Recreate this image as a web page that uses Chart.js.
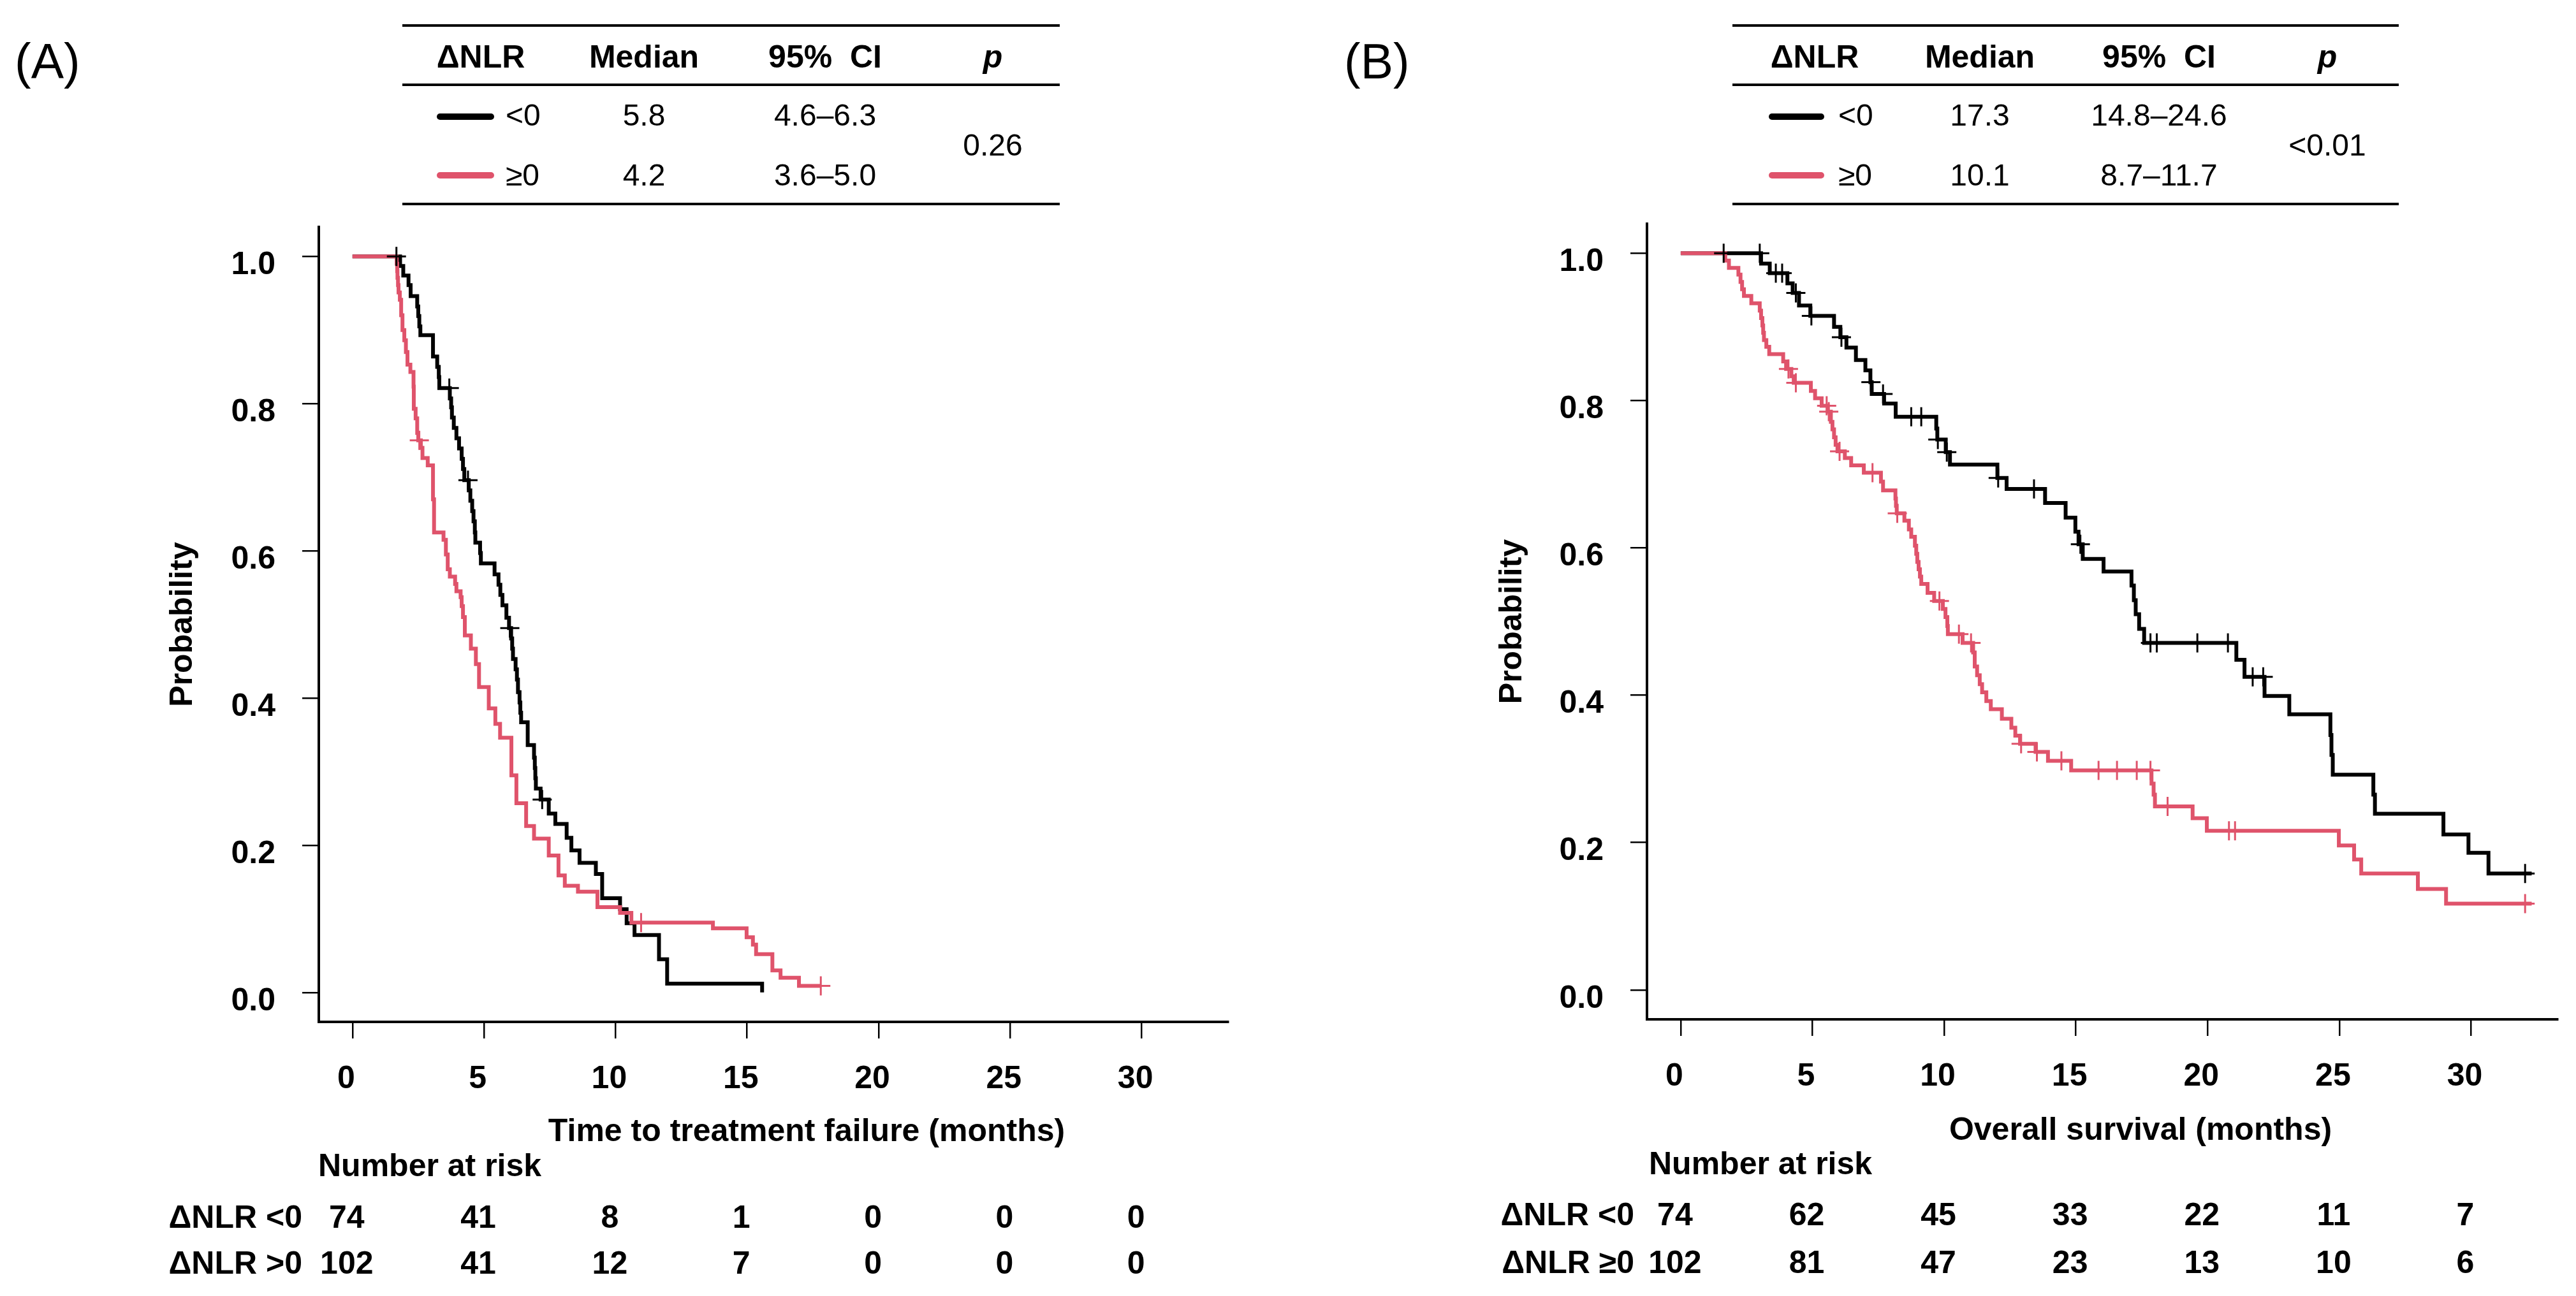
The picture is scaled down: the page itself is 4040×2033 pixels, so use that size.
<!DOCTYPE html>
<html>
<head>
<meta charset="utf-8">
<title>Kaplan-Meier by change in NLR</title>
<script src="https://cdn.jsdelivr.net/npm/chart.js@4.4.1/dist/chart.umd.min.js"></script>
<style>
    html, body { margin: 0; padding: 0; background: #fff; }
    #page { position: relative; width: 4040px; height: 2033px; overflow: hidden; font-family: 'Liberation Sans', Arial, sans-serif; color: #000; }
    canvas { position: absolute; left: 0; top: 0; }
    .t { position: absolute; white-space: nowrap; line-height: 1; }
    .rule { position: absolute; height: 4px; background: #000; }
    .key { position: absolute; height: 10px; border-radius: 5px; }
</style>
</head>
<body>
<div id="page">
    <canvas id="chartA" width="4040" height="2033"></canvas>
    <canvas id="chartB" width="4040" height="2033"></canvas>
</div>
<script>
// Kaplan-Meier curves, ΔNLR <0 vs ≥0
const FONT = "'Liberation Sans', Arial, sans-serif";
const BLACK = '#000000';
const RED = '#DF536B';

const xTicks = [0, 5, 10, 15, 20, 25, 30];
const yTicks = [0, 0.2, 0.4, 0.6, 0.8, 1.0];

// (A) time to treatment failure: [months, probability]
const ttfNeg = [[0,1],[1.81,0.987],[1.93,0.974],[2.13,0.961],[2.21,0.946],[2.46,0.932],[2.50,0.919],[2.54,0.905],[2.58,0.893],[3.06,0.864],[3.22,0.850],[3.28,0.836],[3.30,0.821],[3.70,0.807],[3.75,0.795],[3.78,0.781],[3.85,0.767],[3.95,0.753],[4.05,0.739],[4.15,0.725],[4.20,0.711],[4.25,0.696],[4.42,0.682],[4.48,0.668],[4.55,0.654],[4.60,0.640],[4.65,0.625],[4.67,0.611],[4.85,0.597],[4.88,0.583],[5.40,0.568],[5.55,0.554],[5.62,0.540],[5.70,0.526],[5.85,0.509],[5.95,0.495],[6.03,0.481],[6.07,0.467],[6.10,0.453],[6.20,0.439],[6.25,0.425],[6.29,0.408],[6.35,0.394],[6.38,0.380],[6.41,0.367],[6.66,0.336],[6.90,0.319],[6.93,0.305],[6.95,0.291],[6.97,0.277],[7.15,0.262],[7.46,0.243],[7.71,0.229],[8.14,0.210],[8.32,0.193],[8.63,0.176],[9.25,0.161],[9.49,0.128],[10.17,0.113],[10.42,0.094],[10.72,0.078],[11.65,0.045],[11.96,0.012],[15.57,0]];
const ttfNegCensor = [[1.67,1.0],[3.68,0.821],[4.39,0.696],[5.98,0.495],[7.21,0.262]];
const ttfPos = [[0,1],[1.68,0.990],[1.70,0.980],[1.71,0.971],[1.73,0.961],[1.75,0.951],[1.80,0.941],[1.85,0.920],[1.90,0.900],[1.97,0.886],[2.03,0.870],[2.09,0.853],[2.20,0.843],[2.32,0.823],[2.33,0.793],[2.40,0.780],[2.46,0.760],[2.50,0.750],[2.60,0.740],[2.66,0.726],[2.86,0.716],[3.06,0.670],[3.10,0.625],[3.46,0.615],[3.55,0.595],[3.62,0.575],[3.70,0.565],[3.90,0.555],[3.95,0.545],[4.11,0.537],[4.15,0.525],[4.20,0.510],[4.27,0.485],[4.50,0.467],[4.69,0.446],[4.81,0.415],[5.18,0.386],[5.43,0.365],[5.61,0.346],[6.04,0.295],[6.23,0.257],[6.60,0.226],[6.90,0.209],[7.46,0.186],[7.83,0.159],[8.07,0.145],[8.57,0.137],[9.31,0.116],[10.17,0.108],[10.60,0.095],[13.70,0.087],[14.98,0.075],[15.22,0.065],[15.34,0.052],[15.96,0.030],[16.27,0.020],[16.97,0.009],[17.80,0.009]];
const ttfPosCensor = [[2.54,0.750],[10.97,0.095],[17.80,0.009]];

// (B) overall survival: [months, probability]
const osNeg = [[0,1],[3.05,0.986],[3.38,0.973],[4.05,0.959],[4.25,0.946],[4.49,0.929],[4.92,0.915],[5.82,0.900],[6.06,0.886],[6.29,0.872],[6.65,0.855],[7.01,0.841],[7.20,0.825],[7.25,0.809],[7.72,0.796],[8.16,0.778],[9.70,0.762],[9.74,0.747],[10.06,0.730],[10.22,0.713],[12.02,0.695],[12.37,0.680],[13.83,0.661],[14.61,0.641],[14.98,0.622],[15.10,0.605],[15.26,0.585],[16.05,0.568],[17.11,0.549],[17.20,0.529],[17.27,0.510],[17.40,0.490],[17.59,0.471],[21.09,0.448],[21.40,0.425],[22.16,0.399],[23.10,0.374],[24.66,0.346],[24.70,0.319],[24.75,0.292],[26.29,0.265],[26.35,0.239],[28.95,0.211],[29.90,0.186],[30.66,0.158],[32.30,0.158]];
const osNegCensor = [[1.63,1.0],[3.00,1.0],[3.61,0.973],[3.85,0.973],[4.37,0.946],[4.96,0.915],[6.10,0.886],[7.22,0.825],[7.68,0.809],[8.75,0.778],[9.13,0.778],[9.76,0.747],[10.10,0.730],[12.05,0.695],[13.41,0.680],[15.17,0.605],[17.83,0.471],[18.07,0.471],[19.61,0.471],[20.77,0.471],[21.71,0.425],[22.11,0.425],[32.05,0.158]];
const osPos = [[0,1],[1.69,0.990],[1.83,0.980],[2.19,0.971],[2.27,0.961],[2.33,0.951],[2.40,0.942],[2.68,0.932],[3.00,0.922],[3.05,0.912],[3.10,0.902],[3.13,0.892],[3.16,0.882],[3.25,0.873],[3.36,0.863],[3.89,0.853],[4.00,0.843],[4.20,0.833],[4.29,0.824],[4.94,0.813],[5.10,0.803],[5.35,0.793],[5.58,0.785],[5.70,0.771],[5.76,0.761],[5.82,0.750],[5.88,0.740],[5.95,0.731],[6.23,0.722],[6.47,0.712],[6.95,0.702],[7.60,0.690],[7.68,0.678],[8.15,0.667],[8.17,0.657],[8.20,0.647],[8.49,0.637],[8.66,0.625],[8.75,0.615],[8.89,0.603],[8.94,0.592],[8.98,0.581],[9.03,0.571],[9.08,0.561],[9.13,0.551],[9.37,0.539],[9.62,0.528],[9.95,0.517],[10.05,0.506],[10.12,0.494],[10.14,0.483],[10.70,0.471],[11.10,0.458],[11.16,0.439],[11.25,0.427],[11.35,0.415],[11.44,0.404],[11.60,0.392],[11.77,0.381],[12.19,0.368],[12.55,0.356],[12.70,0.345],[12.88,0.334],[13.47,0.323],[13.94,0.311],[14.82,0.298],[17.87,0.280],[17.95,0.265],[18.00,0.249],[19.43,0.233],[19.97,0.216],[24.98,0.196],[25.56,0.177],[25.83,0.158],[27.98,0.137],[29.05,0.117],[32.30,0.117]];
const osPosCensor = [[4.09,0.843],[4.37,0.824],[5.54,0.793],[5.62,0.785],[6.03,0.731],[7.28,0.702],[8.22,0.647],[9.82,0.528],[10.56,0.483],[11.02,0.471],[12.92,0.334],[13.52,0.323],[14.45,0.311],[15.86,0.298],[16.56,0.298],[17.31,0.298],[17.83,0.298],[18.48,0.249],[20.81,0.216],[21.04,0.216],[32.05,0.117]];

// number at risk at each x tick
const ttfRiskNeg = [74, 41, 8, 1, 0, 0, 0];
const ttfRiskPos = [102, 41, 12, 7, 0, 0, 0];
const osRiskNeg = [74, 62, 45, 33, 22, 11, 7];
const osRiskPos = [102, 81, 47, 23, 13, 10, 6];

// summary tables
const tableHeader = ['\u0394NLR', 'Median', '95%\u00a0 CI', 'p'];
const groupSigns = ['<0', '\u22650'];
const ttfMedian = ['5.8', '4.2'];
const ttfCI = ['4.6\u20136.3', '3.6\u20135.0'];
const ttfP = '0.26';
const osMedian = ['17.3', '10.1'];
const osCI = ['14.8\u201324.6', '8.7\u201311.7'];
const osP = '<0.01';

const page = document.getElementById('page');

// put a text element so that its baseline sits at y
function addText(str, x, baseline, size, opts = {}) {
    const el = document.createElement('div');
    el.className = 't';
    el.textContent = str;
    el.style.fontSize = size + 'px';
    el.style.fontWeight = opts.bold ? 'bold' : 'normal';
    if (opts.italic) el.style.fontStyle = 'italic';
    el.style.top = (baseline - 0.8465 * size) + 'px';
    el.style.left = x + 'px';
    if (opts.align === 'center') el.style.transform = 'translateX(-50%)';
    page.appendChild(el);
}

function addBox(cls, left, top, width, color) {
    const el = document.createElement('div');
    el.className = cls;
    el.style.left = left + 'px';
    el.style.top = top + 'px';
    el.style.width = width + 'px';
    if (color) el.style.background = color;
    page.appendChild(el);
}

function buildTable(t, medians, cis, pval) {
    [38, 131, 318].forEach(y => addBox('rule', t.ruleLeft, y, t.ruleRight - t.ruleLeft));
    tableHeader.forEach((h, i) => addText(h, t.cols[i], 106, 50, { bold: true, italic: i === 3, align: 'center' }));
    [BLACK, RED].forEach((c, i) => {
        const base = [198, 292][i];
        addBox('key', t.keyLeft, [178, 270][i], t.keyRight - t.keyLeft, c);
        addText(groupSigns[i], t.signLeft, base, 48);
        addText(medians[i], t.cols[1], base, 48, { align: 'center' });
        addText(cis[i], t.cols[2], base, 48, { align: 'center' });
    });
    addText(pval, t.cols[3], 245, 48, { align: 'center' });
}

addText('(A)', 23, 123, 77);
addText('(B)', 2108, 123, 77);
buildTable({ ruleLeft: 631, ruleRight: 1662, cols: [754, 1010, 1294, 1557], keyLeft: 685, keyRight: 775, signLeft: 793 },
    ttfMedian, ttfCI, ttfP);
buildTable({ ruleLeft: 2717, ruleRight: 3762, cols: [2846, 3105, 3386, 3650], keyLeft: 2774, keyRight: 2861, signLeft: 2883 },
    osMedian, osCI, osP);

const toXY = arr => arr.map(p => ({ x: p[0], y: p[1] }));

// axis titles and number-at-risk rows, placed off the x scale
function textPlugin(t) {
    return {
        id: 'panelText',
        afterDraw(chart) {
            const ctx = chart.ctx;
            const xs = chart.scales.x;
            const area = chart.chartArea;
            ctx.save();
            ctx.fillStyle = '#000';
            ctx.font = `bold 50px ${FONT}`;
            ctx.textBaseline = 'alphabetic';
            ctx.textAlign = 'center';
            ctx.fillText(t.xTitle, t.xTitleX, t.xTitleY);

            ctx.save();
            ctx.translate(t.yTitleX, (area.top + area.bottom) / 2);
            ctx.rotate(-Math.PI / 2);
            ctx.textBaseline = 'middle';
            ctx.fillText('Probability', 0, 0);
            ctx.restore();

            ctx.textAlign = 'left';
            ctx.fillText('Number at risk', t.riskHeadX, t.riskHeadY);
            t.rows.forEach((row, i) => {
                ctx.textAlign = 'right';
                ctx.fillText(row.label, t.riskLabelRight, t.rowY[i]);
                ctx.textAlign = 'center';
                row.values.forEach((v, j) => {
                    ctx.fillText(String(v), xs.getPixelForValue(xTicks[j]) - 9, t.rowY[i]);
                });
            });
            ctx.restore();
        }
    };
}

function makePanel(id, p) {
    const tickFont = { family: FONT, size: 50, weight: 'bold' };
    new Chart(document.getElementById(id), {
        type: 'line',
        data: {
            datasets: [
                { data: toXY(p.negCensor), type: 'scatter', showLine: false, pointStyle: 'cross', pointRadius: 15, borderColor: BLACK, borderWidth: 3, order: 0 },
                { data: toXY(p.posCensor), type: 'scatter', showLine: false, pointStyle: 'cross', pointRadius: 15, borderColor: RED, borderWidth: 3, order: 0 },
                { data: toXY(p.pos), stepped: 'before', borderColor: RED, borderWidth: 6, pointRadius: 0, fill: false, order: 1 },
                { data: toXY(p.neg), stepped: 'before', borderColor: BLACK, borderWidth: 6, pointRadius: 0, fill: false, order: 2 }
            ]
        },
        options: {
            responsive: false,
            animation: false,
            devicePixelRatio: 1,
            layout: { padding: p.padding },
            plugins: { legend: { display: false }, tooltip: { enabled: false } },
            scales: {
                x: {
                    type: 'linear',
                    min: -1.28,
                    max: 33.28,
                    afterBuildTicks: s => { s.ticks = xTicks.map(v => ({ value: v })); },
                    afterFit: s => { s.height = 200; },
                    grid: { drawOnChartArea: false, drawTicks: true, tickLength: 26, lineWidth: 2.5, color: '#000' },
                    border: { display: true, color: '#000', width: 4 },
                    ticks: { color: '#000', font: tickFont, padding: 34, labelOffset: -10, maxRotation: 0, autoSkip: false, callback: v => String(v) }
                },
                y: {
                    type: 'linear',
                    min: -0.04,
                    max: 1.04,
                    afterBuildTicks: s => { s.ticks = yTicks.map(v => ({ value: v })); },
                    afterFit: s => { s.width = 500; },
                    grid: { drawOnChartArea: false, drawTicks: true, tickLength: 26, lineWidth: 2.5, color: '#000' },
                    border: { display: true, color: '#000', width: 4 },
                    ticks: { color: '#000', font: tickFont, padding: 42, labelOffset: 14, autoSkip: false, callback: v => v.toFixed(1) }
                }
            }
        },
        plugins: [textPlugin(p.text)]
    });
}

makePanel('chartA', {
    neg: ttfNeg, negCensor: ttfNegCensor, pos: ttfPos, posCensor: ttfPosCensor,
    padding: { left: 0, right: 2114, top: 356, bottom: 230 },
    text: {
        xTitle: 'Time to treatment failure (months)', xTitleX: 1265, xTitleY: 1790,
        yTitleX: 287,
        riskHeadX: 499, riskHeadY: 1845,
        riskLabelRight: 474, rowY: [1926, 1998],
        rows: [{ label: '\u0394NLR <0', values: ttfRiskNeg }, { label: '\u0394NLR >0', values: ttfRiskPos }]
    }
});

makePanel('chartB', {
    neg: osNeg, negCensor: osNegCensor, pos: osPos, posCensor: osPosCensor,
    padding: { left: 2083, right: 29, top: 351, bottom: 234 },
    text: {
        xTitle: 'Overall survival (months)', xTitleX: 3357, xTitleY: 1788,
        yTitleX: 2372,
        riskHeadX: 2586, riskHeadY: 1842,
        riskLabelRight: 2563, rowY: [1922, 1997],
        rows: [{ label: '\u0394NLR <0', values: osRiskNeg }, { label: '\u0394NLR \u22650', values: osRiskPos }]
    }
});
</script>
</body>
</html>
